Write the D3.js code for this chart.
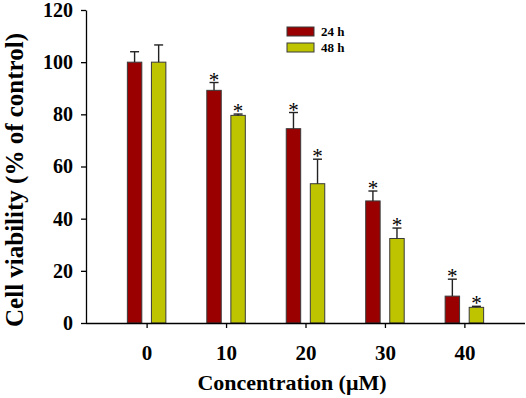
<!DOCTYPE html>
<html>
<head>
<meta charset="utf-8">
<script src="https://cdn.jsdelivr.net/npm/d3@7"></script>
<style>
  body { margin: 0; background: #fff; }
  text { font-family: "Liberation Serif", "Times New Roman", serif; font-weight: bold; }
</style>
</head>
<body>
<div id="chart"></div>
<script>
const width = 526;
const height = 398;

// data
const concentrations = ["0", "10", "20", "30", "40"];
const series = ["24 h", "48 h"];
const colors = ["#9a0000", "#bec400"];
const values24 = [100, 89.2, 74.5, 46.8, 10.3];
const values48 = [100, 79.6, 53.4, 32.4, 6.0];
const errors24 = [4, 3, 6.2, 3.8, 6.5];
const errors48 = [6.6, 0.5, 9.4, 4, 0.4];
const significant24 = [false, true, true, true, true];
const significant48 = [false, true, true, true, true];
const yTicks = [0, 20, 40, 60, 80, 100, 120];

const svg = d3.select("#chart")
  .append("svg")
  .attr("width", width)
  .attr("height", height);

const x0 = d3.scalePoint()
  .domain(concentrations)
  .range([86, 525])
  .padding(0.763);

const x1 = d3.scaleBand()
  .domain(series)
  .range([-19.25, 19.25])
  .paddingInner(0.4);

const y = d3.scaleLinear()
  .domain([0, 120])
  .range([323, 10]);

// build rows for each bar
const rows = [];
concentrations.forEach((c, i) => {
  rows.push({ c, s: series[0], v: values24[i], e: errors24[i], sig: significant24[i], color: colors[0] });
  rows.push({ c, s: series[1], v: values48[i], e: errors48[i], sig: significant48[i], color: colors[1] });
});

const barX = d => x0(d.c) + x1(d.s);

// bars
svg.append("g")
  .selectAll("rect")
  .data(rows)
  .join("rect")
  .attr("x", d => barX(d))
  .attr("y", d => y(d.v))
  .attr("width", x1.bandwidth())
  .attr("height", d => y(0) - y(d.v))
  .attr("fill", d => d.color)
  .attr("stroke", "#3a3a3a")
  .attr("stroke-width", 1);

// error bars (upper only)
const err = svg.append("g")
  .attr("stroke", "#222")
  .attr("stroke-width", 1.4);

err.selectAll("line.v")
  .data(rows)
  .join("line")
  .attr("class", "v")
  .attr("x1", d => barX(d) + x1.bandwidth() / 2)
  .attr("x2", d => barX(d) + x1.bandwidth() / 2)
  .attr("y1", d => y(d.v))
  .attr("y2", d => y(d.v + d.e));

err.selectAll("line.cap")
  .data(rows)
  .join("line")
  .attr("class", "cap")
  .attr("x1", d => barX(d) + x1.bandwidth() / 2 - 4.5)
  .attr("x2", d => barX(d) + x1.bandwidth() / 2 + 4.5)
  .attr("y1", d => y(d.v + d.e))
  .attr("y2", d => y(d.v + d.e));

// significance stars
svg.append("g")
  .selectAll("text")
  .data(rows.filter(d => d.sig))
  .join("text")
  .attr("x", d => barX(d) + x1.bandwidth() / 2)
  .attr("y", d => y(d.v + d.e) + 4)
  .attr("text-anchor", "middle")
  .attr("font-size", "21px")
  .style("font-weight", "normal")
  .attr("fill", "#000")
  .text("*");

// axes
const xAxis = svg.append("g")
  .attr("transform", `translate(0,${y(0)})`)
  .call(d3.axisBottom(x0).tickSize(5).tickSizeOuter(0).tickPadding(17));
xAxis.select(".domain").attr("d", "M86,0.5H525").attr("stroke-width", 1.3);
xAxis.selectAll(".tick line").attr("stroke-width", 1.3);
xAxis.selectAll(".tick text").attr("font-size", "21px").attr("fill", "#000");

const yAxis = svg.append("g")
  .attr("transform", "translate(86,0)")
  .call(d3.axisLeft(y).tickValues(yTicks).tickSize(5).tickSizeOuter(0).tickPadding(8));
yAxis.select(".domain").attr("stroke-width", 1.3);
yAxis.selectAll(".tick line").attr("stroke-width", 1.3);
yAxis.selectAll(".tick text").attr("font-size", "20px").attr("fill", "#000");

// axis titles
svg.append("text")
  .attr("x", 292)
  .attr("y", 390)
  .attr("text-anchor", "middle")
  .attr("font-size", "22px")
  .text("Concentration (\u03bcM)");

svg.append("text")
  .attr("transform", "translate(23,180) rotate(-90)")
  .attr("text-anchor", "middle")
  .attr("font-size", "25px")
  .text("Cell viability (% of control)");

// legend
const legend = svg.append("g");
series.forEach((s, i) => {
  legend.append("rect")
    .attr("x", 287)
    .attr("y", 27 + i * 16)
    .attr("width", 27)
    .attr("height", 9)
    .attr("fill", colors[i])
    .attr("stroke", "#3a3a3a")
    .attr("stroke-width", 1);
  legend.append("text")
    .attr("x", 321)
    .attr("y", 31.5 + i * 16)
    .attr("dominant-baseline", "central")
    .attr("font-size", "13px")
    .text(s);
});
</script>
</body>
</html>
